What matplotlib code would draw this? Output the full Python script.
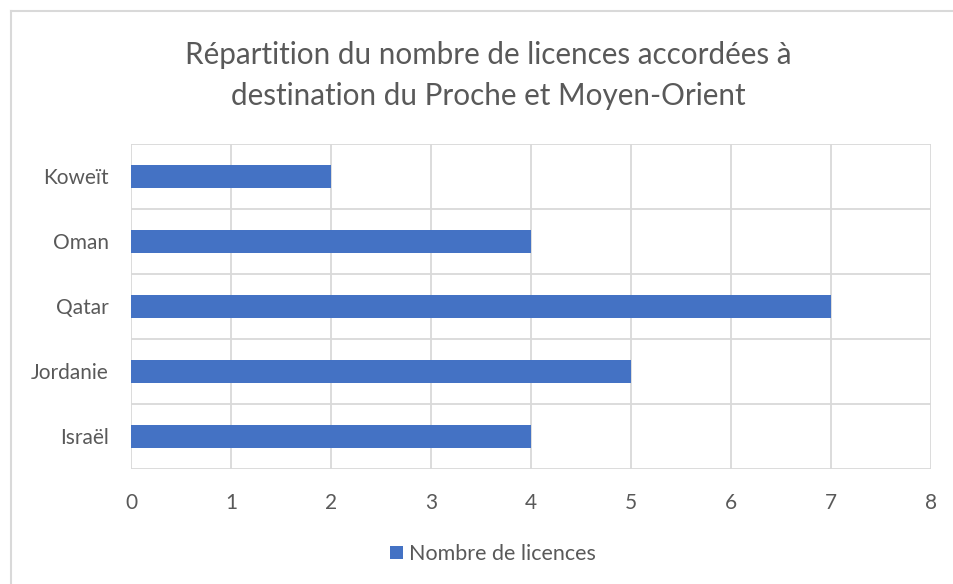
import matplotlib.pyplot as plt
import numpy as np
from matplotlib.lines import Line2D

# Data
countries = ["Israël", "Jordanie", "Qatar", "Oman", "Koweït"]
licences = [4, 5, 7, 4, 2]
series_name = "Nombre de licences"
title = "Répartition du nombre de licences accordées à\ndestination du Proche et Moyen-Orient"

_color = "#4472C4"
_grid = "#D9D9D9"
_text = "#595959"

plt.rcParams["font.family"] = ["Lato", "DejaVu Sans"]

fig = plt.figure(figsize=(9.54, 5.84), dpi=100)
ax = fig.add_axes([0.1373, 0.197, 0.8386, 0.5565])

y = np.arange(len(countries))
ax.barh(y, licences, height=0.354, color=_color, label=series_name, zorder=3)

ax.set_xlim(0, 8)
ax.set_ylim(-0.5, len(countries) - 0.5)
ax.set_xticks(range(0, 9))
ax.set_yticks(y)
ax.set_yticklabels(countries)
ax.set_yticks(np.arange(-0.5, len(countries), 1), minor=True)

ax.grid(axis="x", which="major", color=_grid, linewidth=1.3, zorder=0)
ax.grid(axis="y", which="minor", color=_grid, linewidth=1.3, zorder=0)
ax.tick_params(axis="both", which="both", length=0, colors=_text, labelsize=15)
ax.tick_params(axis="x", pad=17)
ax.tick_params(axis="y", pad=16)

for spine in ax.spines.values():
    spine.set_visible(False)

fig.suptitle(title, x=0.512, y=0.93, fontsize=21.3, color=_text, linespacing=1.55)

ax.legend(loc="center", bbox_to_anchor=(0.4525, -0.262), frameon=False,
          fontsize=15.5, labelcolor=_text, handlelength=0.6, handleheight=0.6,
          handletextpad=0.3)

# chart area border (left and top visible)
fig.add_artist(Line2D([0.0115, 0.0115], [0.0, 0.981], color=_grid, linewidth=1.5))
fig.add_artist(Line2D([0.0115, 1.0], [0.981, 0.981], color=_grid, linewidth=1.5))

fig.savefig("out.png", dpi=100)
